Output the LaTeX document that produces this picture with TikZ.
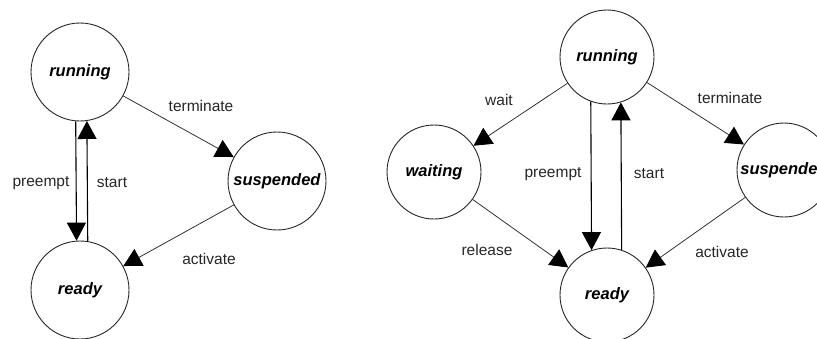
\documentclass[tikz,border=0pt]{standalone}
\usepackage{fontspec}
\setmainfont{Liberation Sans}
\usetikzlibrary{arrows.meta}
\tikzset{
  state/.style={circle, draw=black!85, line width=0.9pt, inner sep=0pt,
    minimum size=96pt, font=\fontsize{16.5}{18}\selectfont\bfseries\itshape},
  trans/.style={draw=black!80, line width=0.8pt,
    -{Triangle[length=18pt,width=19pt,color=black]}},
  vtrans/.style={trans, draw=black, line width=1.1pt},
  lbl/.style={font=\fontsize{15.5}{17}\selectfont, text=black!85}
}
\begin{document}
\begin{tikzpicture}[x=1pt,y=-1pt]
  \useasboundingbox (0,0) rectangle (817,338);
  \clip (0,0) rectangle (817,338);

  % simple model: three states
  \node[state, minimum size=98pt] (run)  at (80,72)  {running};
  \node[state, minimum size=98pt] (rdy)  at (80,290) {ready};
  \node[state, minimum size=98pt] (sus)  at (277,181) {suspended};

  \draw[vtrans] (run.265.3) -- (rdy.94.7);
  \draw[vtrans] (rdy.81.8) -- (run.278.2);
  \draw[trans] (run) -- (sus);
  \draw[trans] (sus) -- (rdy);

  \node[lbl] at (41,183)  {preempt};
  \node[lbl] at (112,183) {start};
  \node[lbl] at (201,106) {terminate};
  \node[lbl] at (209,259) {activate};

  % extended model: with a waiting state
  \node[state, minimum size=94pt] (run2)  at (607,57)  {running};
  \node[state, minimum size=94pt] (wait2) at (434,172) {waiting};
  \node[state, minimum size=94pt] (sus2)  at (784,170) {suspended};
  \node[state, minimum size=94pt] (rdy2)  at (607,295) {ready};

  \draw[trans] (run2) -- (wait2);
  \draw[trans] (run2) -- (sus2);
  \draw[trans] (wait2) -- (rdy2);
  \draw[trans] (sus2) -- (rdy2);
  \draw[vtrans] (run2.250.1) -- (rdy2.109.9);
  \draw[vtrans] (rdy2.72.7) -- (run2.287.3);

  \node[lbl] at (499,100) {wait};
  \node[lbl] at (553,174) {preempt};
  \node[lbl] at (649,174) {start};
  \node[lbl] at (730,98)  {terminate};
  \node[lbl] at (487,250) {release};
  \node[lbl] at (722,252) {activate};
\end{tikzpicture}
\end{document}
